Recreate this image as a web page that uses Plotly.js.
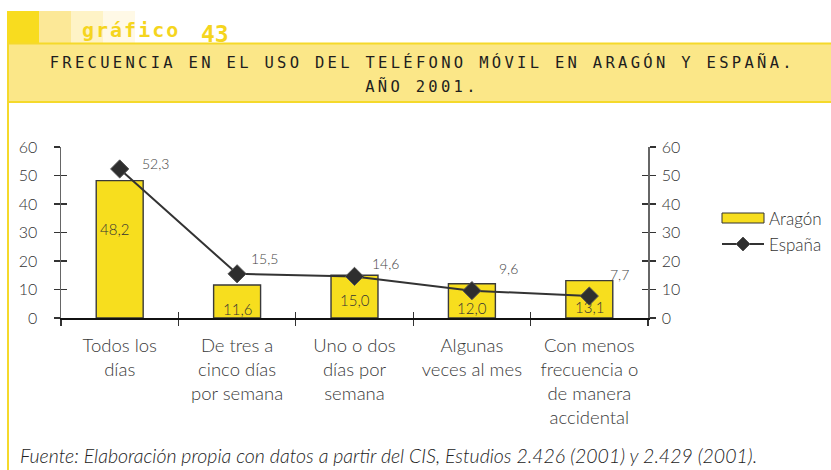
<!DOCTYPE html>
<html>
<head>
<meta charset="utf-8">
<script src="https://cdn.plot.ly/plotly-3.0.1.min.js"></script>
<style>
  html, body { margin: 0; padding: 0; background: #fff; }
  #chart { width: 831px; height: 470px; }
  /* wide tracking for the stencil-style headings */
  g.annotation[data-index="0"] text,
  g.annotation[data-index="1"] text { letter-spacing: 3.3px; }
  g.annotation[data-index="2"] text { letter-spacing: 2px; }
</style>
</head>
<body>
<div id="chart"></div>
<script>
// Frequency of mobile phone use, Aragón vs España, 2001 (%)
const categories = [
  "Todos los<br>días",
  "De tres a<br>cinco días<br>por semana",
  "Uno o dos<br>días por<br>semana",
  "Algunas<br>veces al mes",
  "Con menos<br>frecuencia o<br>de manera<br>accidental"
];
const aragon = [48.2, 11.6, 15.0, 12.0, 13.1];
const espana = [52.3, 15.5, 14.6, 9.6, 7.7];
const yTicks = [0, 10, 20, 30, 40, 50, 60];

// page geometry (pixels) and helpers to convert to paper coordinates
const W = 831, H = 470, mL = 61, mR = 183, mT = 147, mB = 152;
const PW = W - mL - mR, PH = H - mT - mB;
const px = x => (x - mL) / PW;
const py = y => (H - mB - y) / PH;

const fmt = v => v.toFixed(1).replace('.', ',');

const YELLOW = '#F7DE1E';
const BODY_FONT = 'Lato, "Open Sans", sans-serif';
const MONO = '"DejaVu Sans Mono", monospace';

const traces = [
  {
    type: 'bar', name: 'Aragón', x: categories, y: aragon,
    width: 0.4,
    marker: { color: YELLOW, line: { color: '#3a3a3a', width: 1.4 } },
    hoverinfo: 'skip', showlegend: false
  },
  {
    type: 'scatter', mode: 'lines+markers', name: 'España', x: categories, y: espana,
    line: { color: '#333', width: 2 },
    marker: { symbol: 'diamond', size: 14, color: '#2e2e2e', line: { color: '#555', width: 1 } },
    hoverinfo: 'skip', showlegend: false
  },
  // empty traces that keep the mirrored / inner-tick axes alive
  { type: 'scatter', mode: 'none', x: categories, y: aragon, xaxis: 'x2', yaxis: 'y', showlegend: false, hoverinfo: 'skip' },
  { type: 'scatter', mode: 'none', x: categories, y: aragon, xaxis: 'x', yaxis: 'y2', showlegend: false, hoverinfo: 'skip' },
  { type: 'scatter', mode: 'none', x: categories, y: aragon, xaxis: 'x', yaxis: 'y3', showlegend: false, hoverinfo: 'skip' },
  { type: 'scatter', mode: 'none', x: categories, y: aragon, xaxis: 'x', yaxis: 'y4', showlegend: false, hoverinfo: 'skip' }
];

const tickFont = { family: BODY_FONT, size: 16, color: '#333', weight: 300 };

const yBase = {
  range: [0, 60], tickvals: yTicks, showgrid: false, zeroline: false,
  ticklen: 6, tickwidth: 1.2, tickcolor: '#333', fixedrange: true
};

// value labels inside the bars (pixel offsets above the baseline)
const barLabelShift = [89, 9, 18, 10, 11];
const barLabelX = [-5, 0, 0, 0, 0];
// value labels beside the España markers
const lineLabelDX = [36, 27, 31, 37, 30];
const lineLabelDY = [5, 15, 13, 22, 22];

const annotations = [
  { xref: 'paper', yref: 'paper', x: px(422), y: py(62), xanchor: 'center', yanchor: 'middle', showarrow: false,
    text: 'FRECUENCIA EN EL USO DEL TELÉFONO MÓVIL EN ARAGÓN Y ESPAÑA.', font: { family: MONO, size: 15.5, color: '#1e1e1e' } },
  { xref: 'paper', yref: 'paper', x: px(422), y: py(86), xanchor: 'center', yanchor: 'middle', showarrow: false,
    text: 'AÑO 2001.', font: { family: MONO, size: 15.5, color: '#1e1e1e' } },
  { xref: 'paper', yref: 'paper', x: px(87), y: py(44), xanchor: 'left', yanchor: 'bottom', showarrow: false,
    text: 'gráfico', font: { family: MONO, size: 20, color: '#F5D51E', weight: 700 } },
  { xref: 'paper', yref: 'paper', x: px(199), y: py(49), xanchor: 'left', yanchor: 'bottom', showarrow: false,
    text: '43', font: { family: MONO, size: 23, color: '#F5D51E', weight: 700 } },
  { xref: 'paper', yref: 'paper', x: px(18), y: py(455), xanchor: 'left', yanchor: 'middle', showarrow: false,
    text: 'Fuente: Elaboración propia con datos a partir del CIS, Estudios 2.426 (2001) y 2.429 (2001).',
    font: { family: BODY_FONT, size: 19.5, color: '#222', style: 'italic', weight: 300 } },
  { xref: 'paper', yref: 'paper', x: px(767), y: py(218), xanchor: 'left', yanchor: 'middle', showarrow: false,
    text: 'Aragón', font: { family: BODY_FONT, size: 17, color: '#333', weight: 300 } },
  { xref: 'paper', yref: 'paper', x: px(767), y: py(244), xanchor: 'left', yanchor: 'middle', showarrow: false,
    text: 'España', font: { family: BODY_FONT, size: 17, color: '#333', weight: 300 } }
];

aragon.forEach((v, i) => annotations.push({
  x: categories[i], y: 0, xref: 'x', yref: 'y', showarrow: false,
  yanchor: 'middle', xanchor: 'center', yshift: barLabelShift[i], xshift: barLabelX[i],
  text: fmt(v), font: { family: BODY_FONT, size: 15, color: '#333', weight: 300 }
}));
espana.forEach((v, i) => annotations.push({
  x: categories[i], y: v, xref: 'x', yref: 'y', showarrow: false,
  yanchor: 'middle', xanchor: 'center', xshift: lineLabelDX[i], yshift: lineLabelDY[i],
  text: fmt(v), font: { family: BODY_FONT, size: 14, color: '#444', weight: 300 }
}));

const BORDER = '#F5D92B';
const shapes = [
  // heading tabs
  { type: 'rect', xref: 'paper', yref: 'paper', x0: px(7), x1: px(39), y0: py(43), y1: py(11), fillcolor: '#F8DC1F', line: { width: 0 } },
  { type: 'rect', xref: 'paper', yref: 'paper', x0: px(39), x1: px(71), y0: py(43), y1: py(11), fillcolor: '#FCE897', line: { width: 0 } },
  { type: 'rect', xref: 'paper', yref: 'paper', x0: px(71), x1: px(103), y0: py(43), y1: py(11), fillcolor: '#FEF3C6', line: { width: 0 } },
  { type: 'rect', xref: 'paper', yref: 'paper', x0: px(103), x1: px(135), y0: py(43), y1: py(11), fillcolor: '#FFF9E6', line: { width: 0 } },
  // title band
  { type: 'rect', xref: 'paper', yref: 'paper', x0: px(7), x1: px(831), y0: py(102), y1: py(43), fillcolor: '#FBE788', line: { width: 0 } },
  { type: 'line', xref: 'paper', yref: 'paper', x0: px(7), x1: px(831), y0: py(43.5), y1: py(43.5), line: { color: BORDER, width: 2 } },
  { type: 'line', xref: 'paper', yref: 'paper', x0: px(7), x1: px(831), y0: py(102), y1: py(102), line: { color: BORDER, width: 2 } },
  { type: 'line', xref: 'paper', yref: 'paper', x0: px(8), x1: px(8), y0: py(43), y1: py(470), line: { color: BORDER, width: 2 } },
  // legend keys
  { type: 'rect', xref: 'paper', yref: 'paper', x0: px(722), x1: px(764), y0: py(223), y1: py(213), fillcolor: YELLOW, line: { color: '#333', width: 1 } },
  { type: 'line', xref: 'paper', yref: 'paper', x0: px(722), x1: px(764), y0: py(244), y1: py(244), line: { color: '#333', width: 2 } },
  { type: 'path', xref: 'paper', yref: 'paper',
    path: `M${px(743)},${py(237)} L${px(750)},${py(244)} L${px(743)},${py(251)} L${px(736)},${py(244)} Z`,
    fillcolor: '#2e2e2e', line: { color: '#555', width: 1 } }
];

const layout = {
  width: W, height: H,
  margin: { l: mL, r: mR, t: mT, b: mB, pad: 0 },
  paper_bgcolor: '#fff', plot_bgcolor: 'rgba(0,0,0,0)',
  showlegend: false,
  xaxis: {
    type: 'category', range: [-0.5, 4.5], categoryarray: categories, categoryorder: 'array',
    showline: true, linecolor: '#111', linewidth: 1.5, showgrid: false, zeroline: false,
    ticks: 'outside', tickson: 'boundaries', ticklen: 6, tickwidth: 1.2, tickcolor: '#333',
    tickfont: { family: BODY_FONT, size: 18.5, color: '#3a3a3a', weight: 300 }, ticklabelstandoff: 10,
    automargin: false, fixedrange: true
  },
  xaxis2: {
    type: 'category', overlaying: 'x', anchor: 'y', range: [-0.5, 4.5], categoryarray: categories, categoryorder: 'array',
    ticks: 'inside', tickson: 'boundaries', ticklen: 6, tickwidth: 1.2, tickcolor: '#333',
    showticklabels: false, showline: false, showgrid: false, zeroline: false, fixedrange: true
  },
  yaxis: Object.assign({}, yBase, {
    side: 'left', anchor: 'x', ticks: 'outside', showline: true, linecolor: '#666', linewidth: 1.5,
    tickfont: tickFont, ticklabelstandoff: 13, automargin: false
  }),
  yaxis2: Object.assign({}, yBase, {
    overlaying: 'y', side: 'right', anchor: 'x', ticks: 'outside', showline: true, linecolor: '#666', linewidth: 1.5,
    tickfont: tickFont, ticklabelstandoff: 3, automargin: false
  }),
  yaxis3: Object.assign({}, yBase, {
    overlaying: 'y', side: 'left', anchor: 'x', ticks: 'inside', showline: false, showticklabels: false
  }),
  yaxis4: Object.assign({}, yBase, {
    overlaying: 'y', side: 'right', anchor: 'x', ticks: 'inside', showline: false, showticklabels: false
  }),
  annotations: annotations,
  shapes: shapes
};

Plotly.newPlot('chart', traces, layout, { displayModeBar: false, staticPlot: true });
</script>
</body>
</html>
